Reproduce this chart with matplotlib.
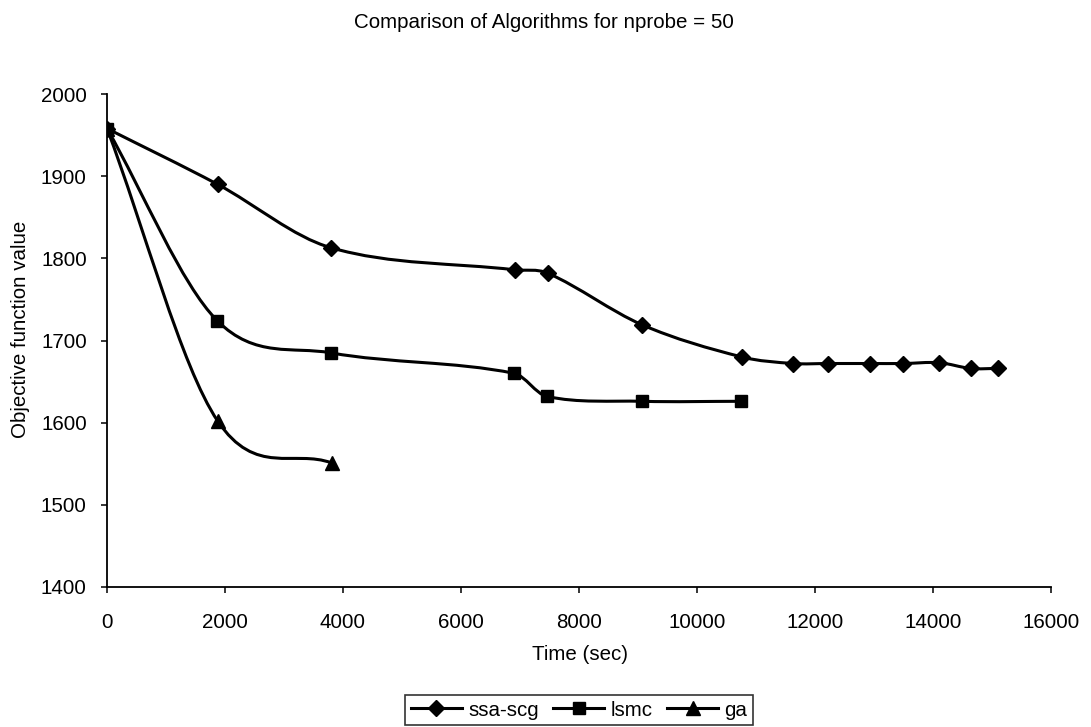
import numpy as np
import matplotlib
matplotlib.use("Agg")
import matplotlib.pyplot as plt
from matplotlib.path import Path
from matplotlib.patches import PathPatch
from matplotlib.lines import Line2D

plt.rcParams['font.family'] = ['Liberation Sans', 'DejaVu Sans']

# ---- data ----
ssa_x = [0, 1876, 3791, 6915, 7469, 9073, 10757, 11633, 12226, 12932, 13497, 14102, 14639, 15097]
ssa_y = [1958, 1890, 1813, 1786, 1782, 1719, 1680, 1672, 1672, 1672, 1672, 1673, 1666, 1666]
lsmc_x = [0, 1870, 3791, 6904, 7452, 9073, 10746]
lsmc_y = [1958, 1724, 1685, 1660, 1632, 1626, 1626]
ga_x = [0, 1876, 3808]
ga_y = [1958, 1602, 1551]
series_names = ['ssa-scg', 'lsmc', 'ga']
x_ticks = [0, 2000, 4000, 6000, 8000, 10000, 12000, 14000, 16000]
y_ticks = [1400, 1500, 1600, 1700, 1800, 1900, 2000]

FS = 14.8
LW = 2.2

fig = plt.figure(figsize=(10.91, 7.27), dpi=100)
ax = fig.add_axes([107/1091, 1-587/727, (1051-107)/1091, (587-94)/727])


def smooth_path(xs, ys):
    # smoothed line style: cubic Bezier segments passing through the data points
    x = np.asarray(xs, float)
    y = np.asarray(ys, float)
    n = len(x)
    m = np.zeros(n)
    for i in range(n):
        a = max(i - 1, 0)
        b = min(i + 1, n - 1)
        m[i] = (y[b] - y[a]) / (x[b] - x[a])
    verts = [(x[0], y[0])]
    codes = [Path.MOVETO]
    for i in range(n - 1):
        h = x[i + 1] - x[i]
        verts += [(x[i] + h / 3, y[i] + m[i] * h / 3),
                  (x[i + 1] - h / 3, y[i + 1] - m[i + 1] * h / 3),
                  (x[i + 1], y[i + 1])]
        codes += [Path.CURVE4] * 3
    return Path(verts, codes)


markers = ['D', 's', '^']
msizes = [7.8, 9.3, 10.5]
data = [(ssa_x, ssa_y), (lsmc_x, lsmc_y), (ga_x, ga_y)]
handles = []
for (xs, ys), mk, ms, name in zip(data, markers, msizes, series_names):
    patch = PathPatch(smooth_path(xs, ys), facecolor='none', edgecolor='black',
                      lw=LW, transform=ax.transData, zorder=2)
    ax.add_patch(patch)
    ax.plot(xs, ys, linestyle='none', marker=mk, markersize=ms, color='black', zorder=3)
    handles.append(Line2D([], [], color='black', lw=LW, marker=mk, markersize=ms, label=name))

ax.set_xlim(0, 16000)
ax.set_ylim(1400, 2000)
ax.set_xticks(x_ticks)
ax.set_yticks(y_ticks)
ax.set_xticklabels([str(t) for t in x_ticks], fontsize=FS)
ax.set_yticklabels([str(t) for t in y_ticks], fontsize=FS)
for s in ['top', 'right']:
    ax.spines[s].set_visible(False)
for s in ['left', 'bottom']:
    ax.spines[s].set_linewidth(1.3)
ax.tick_params(axis='both', direction='out', length=4.5, width=1.1, pad=10)
ax.tick_params(axis='x', pad=14)

fig.text(544/1091, 1-22/727, 'Comparison of Algorithms for nprobe = 50',
         ha='center', va='center', fontsize=FS)
fig.text(580/1091, 1-655/727, 'Time (sec)', ha='center', va='center', fontsize=FS)
fig.text(20.5/1091, 1-329/727, 'Objective function value', ha='center', va='center',
         rotation=90, fontsize=FS)

leg = fig.legend(handles=handles, loc='center', bbox_to_anchor=(579/1091, 1-710/727),
                 bbox_transform=fig.transFigure, ncol=3, fontsize=FS, frameon=True,
                 fancybox=False, edgecolor='black', handlelength=2.5, handletextpad=0.3,
                 columnspacing=0.7, borderpad=0.25, borderaxespad=0)
leg.get_frame().set_linewidth(1.2)

fig.savefig('out.png', dpi=100)
